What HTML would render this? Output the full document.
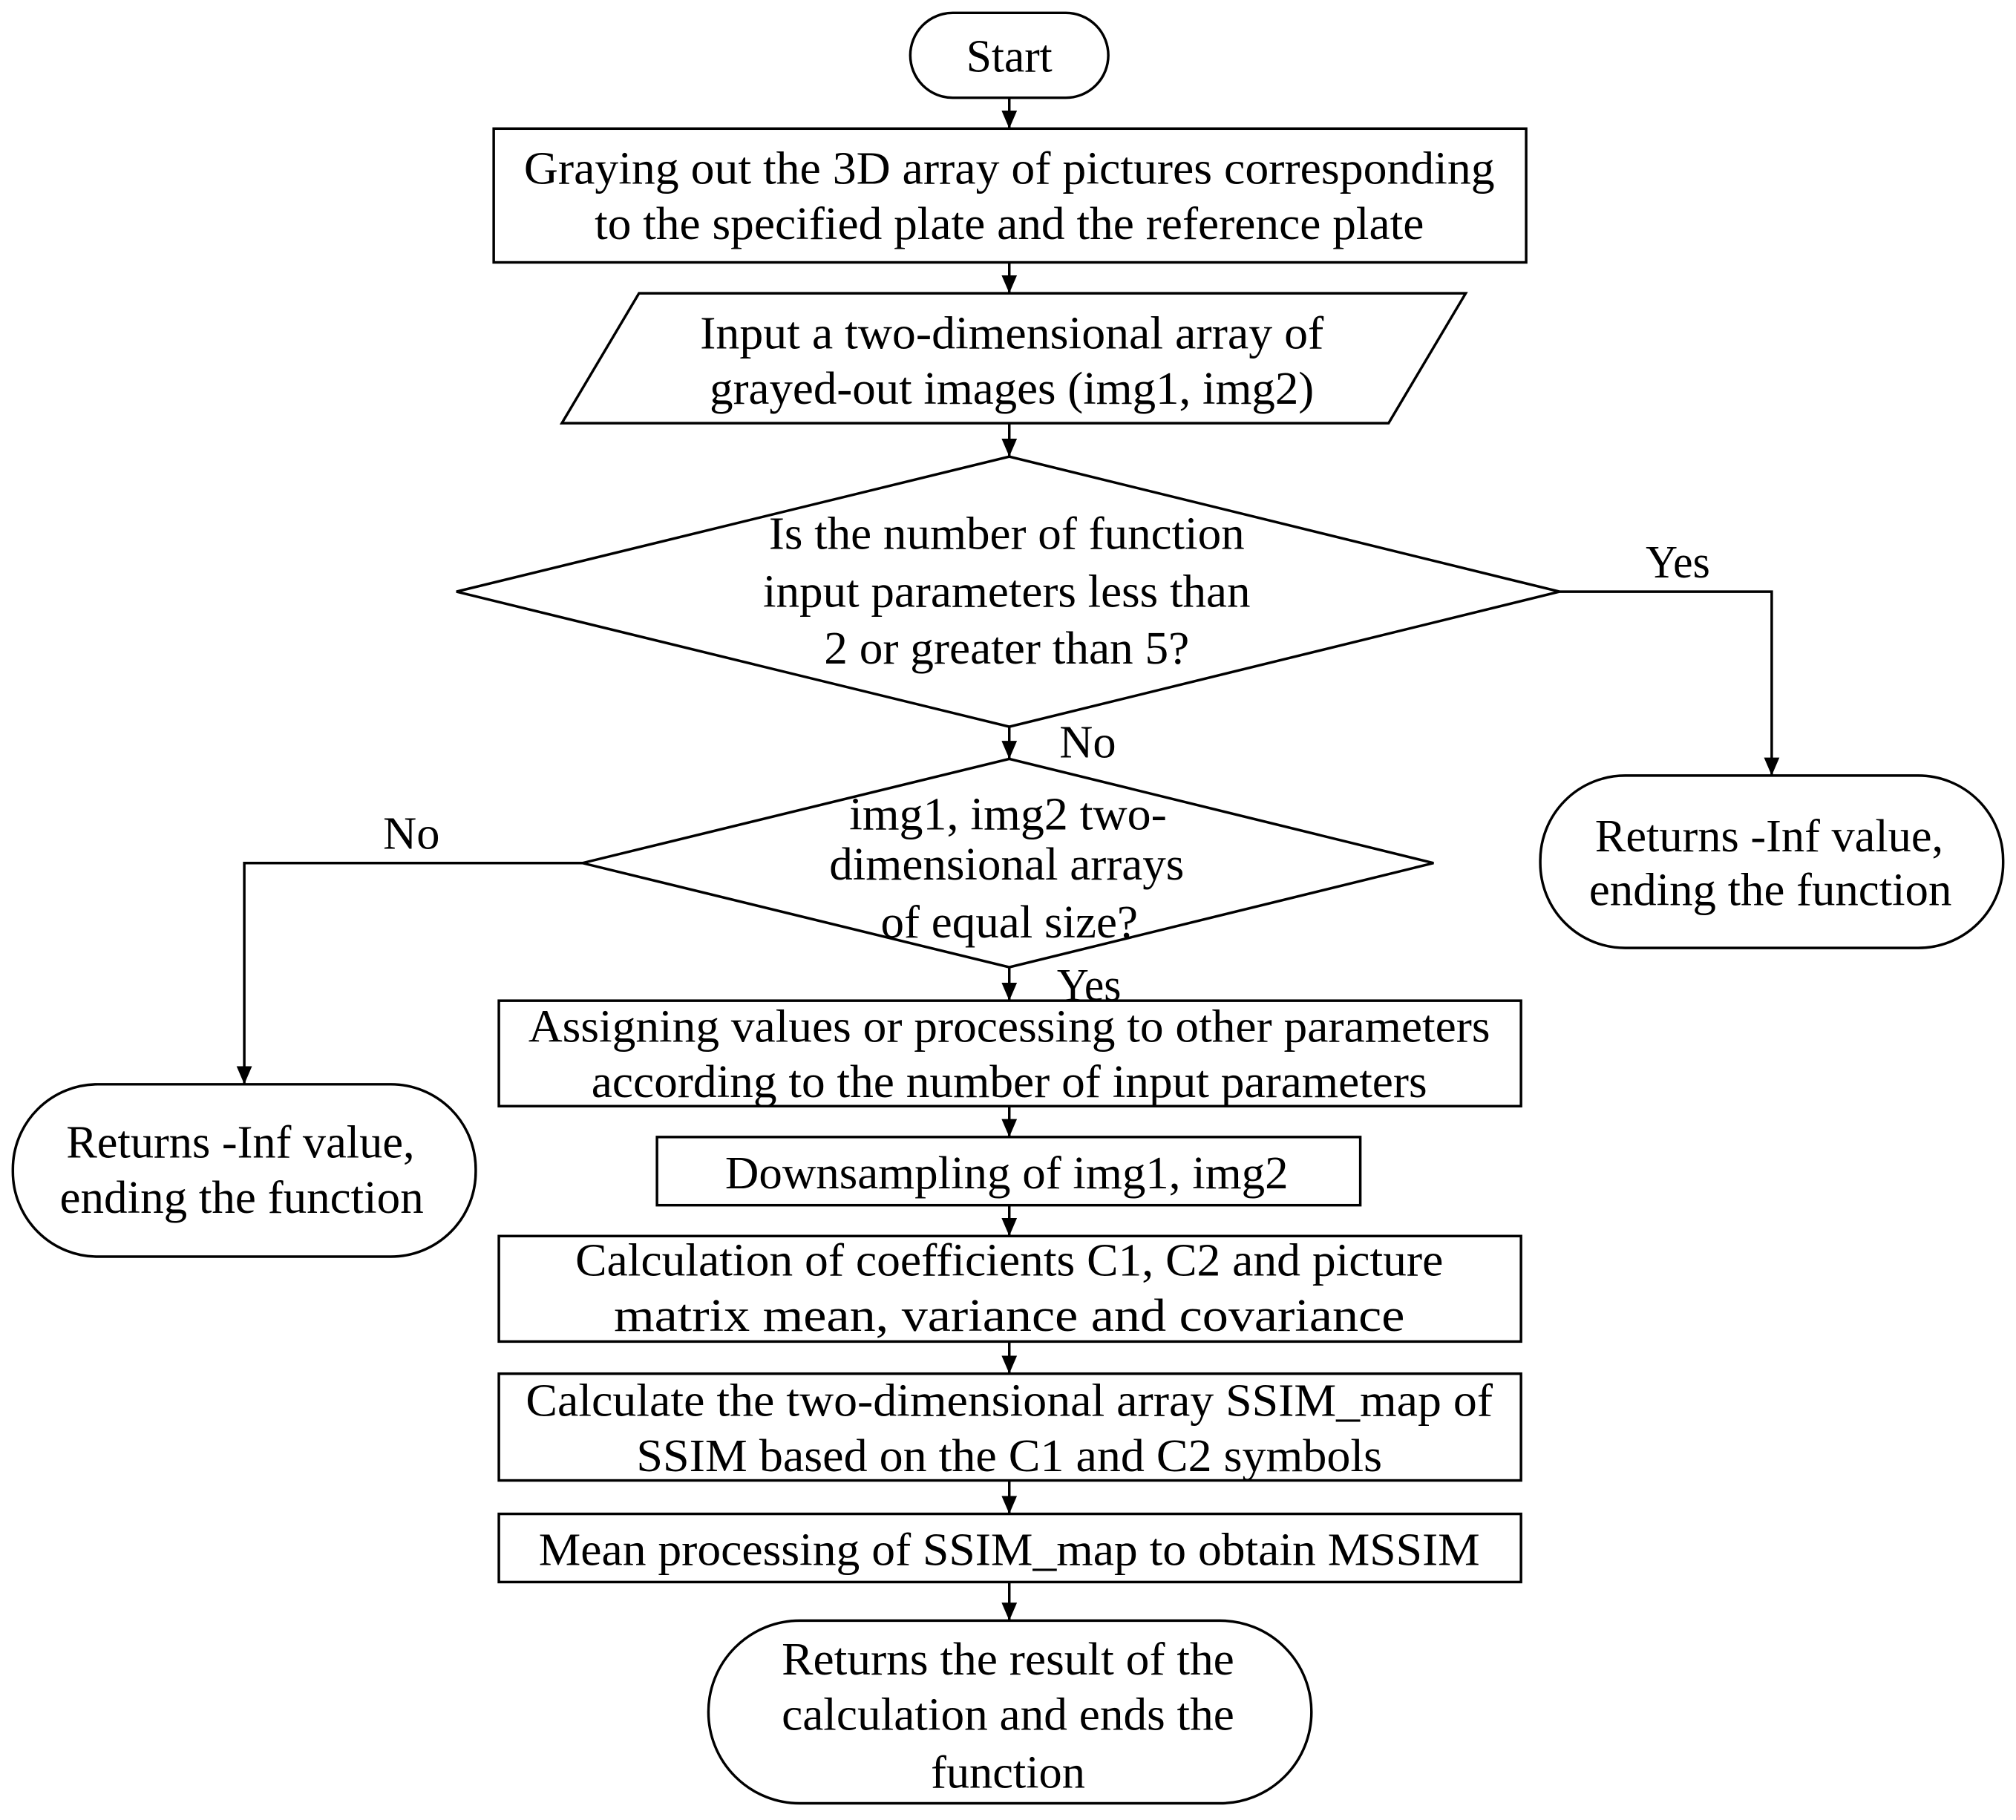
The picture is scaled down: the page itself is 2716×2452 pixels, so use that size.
<!DOCTYPE html>
<html><head><meta charset="utf-8"><style>html,body{margin:0;padding:0;background:#fff}svg{display:block}</style></head>
<body>
<svg width="2716" height="2452" viewBox="0 0 1568 1415" preserveAspectRatio="none" xmlns="http://www.w3.org/2000/svg">
<defs>
<marker id="d" markerWidth="12" markerHeight="14" refX="6" refY="14" orient="0" markerUnits="userSpaceOnUse"><path d="M0,0 L12,0 L6,14 z" fill="#000"/></marker></defs>
<g fill="none" stroke="#000" stroke-width="2">
<rect x="708" y="10" width="154" height="66" rx="33"/>
<rect x="384" y="100" width="803" height="104"/>
<polygon points="497,228 1140,228 1080,329 437,329"/>
<polygon points="785,355 1213,460 785,565 355,460"/>
<polygon points="785,590 1115,671 785,752 453,671"/>
<rect x="1198" y="603" width="360" height="134" rx="66"/>
<rect x="10" y="843" width="360" height="134" rx="66"/>
<rect x="388" y="778" width="795" height="82"/>
<rect x="511" y="884" width="547" height="53"/>
<rect x="388" y="961" width="795" height="82"/>
<rect x="388" y="1068" width="795" height="83"/>
<rect x="388" y="1177" width="795" height="53"/>
<rect x="551" y="1260" width="469" height="142" rx="71"/>
<g marker-end="url(#d)">
<line x1="785" y1="76" x2="785" y2="100"/>
<line x1="785" y1="204" x2="785" y2="228"/>
<line x1="785" y1="329" x2="785" y2="355"/>
<line x1="785" y1="565" x2="785" y2="590"/>
<line x1="785" y1="752" x2="785" y2="778"/>
<line x1="785" y1="860" x2="785" y2="884"/>
<line x1="785" y1="937" x2="785" y2="961"/>
<line x1="785" y1="1043" x2="785" y2="1068"/>
<line x1="785" y1="1151" x2="785" y2="1177"/>
<line x1="785" y1="1230" x2="785" y2="1260"/>
<polyline points="1213,460 1378,460 1378,603"/>
<polyline points="453,671 190,671 190,843"/>
</g></g>
<g font-family="Liberation Serif, serif" font-size="36" text-anchor="middle" dominant-baseline="central" fill="#000" lengthAdjust="spacingAndGlyphs">
<text x="785" y="44" textLength="67" lengthAdjust="spacingAndGlyphs">Start</text>
<text x="785" y="131" textLength="755" lengthAdjust="spacingAndGlyphs">Graying out the 3D array of pictures corresponding</text>
<text x="785" y="174" textLength="645" lengthAdjust="spacingAndGlyphs">to the specified plate and the reference plate</text>
<text x="787" y="259" textLength="485" lengthAdjust="spacingAndGlyphs">Input a two-dimensional array of</text>
<text x="787" y="302" textLength="470" lengthAdjust="spacingAndGlyphs">grayed-out images (img1, img2)</text>
<text x="783" y="415" textLength="370" lengthAdjust="spacingAndGlyphs">Is the number of function</text>
<text x="783" y="460" textLength="379" lengthAdjust="spacingAndGlyphs">input parameters less than</text>
<text x="783" y="504" textLength="284" lengthAdjust="spacingAndGlyphs">2 or greater than 5?</text>
<text x="1305" y="437" textLength="50" lengthAdjust="spacingAndGlyphs">Yes</text>
<text x="846" y="577" textLength="44" lengthAdjust="spacingAndGlyphs">No</text>
<text x="784" y="633" textLength="247" lengthAdjust="spacingAndGlyphs">img1, img2 two-</text>
<text x="783" y="672" textLength="276" lengthAdjust="spacingAndGlyphs">dimensional arrays</text>
<text x="785" y="717" textLength="200" lengthAdjust="spacingAndGlyphs">of equal size?</text>
<text x="320" y="648" textLength="44" lengthAdjust="spacingAndGlyphs">No</text>
<text x="847" y="766" textLength="50" lengthAdjust="spacingAndGlyphs">Yes</text>
<text x="1376" y="650" textLength="271" lengthAdjust="spacingAndGlyphs">Returns -Inf value,</text>
<text x="1377" y="692" textLength="282" lengthAdjust="spacingAndGlyphs">ending the function</text>
<text x="187" y="888" textLength="271" lengthAdjust="spacingAndGlyphs">Returns -Inf value,</text>
<text x="188" y="931" textLength="283" lengthAdjust="spacingAndGlyphs">ending the function</text>
<text x="785" y="798" textLength="748" lengthAdjust="spacingAndGlyphs">Assigning values or processing to other parameters</text>
<text x="785" y="841" textLength="650" lengthAdjust="spacingAndGlyphs">according to the number of input parameters</text>
<text x="783" y="912" textLength="438" lengthAdjust="spacingAndGlyphs">Downsampling of img1, img2</text>
<text x="785" y="980" textLength="675" lengthAdjust="spacingAndGlyphs">Calculation of coefficients C1, C2 and picture</text>
<text x="785" y="1023" textLength="615" lengthAdjust="spacingAndGlyphs">matrix mean, variance and covariance</text>
<text x="785" y="1089" textLength="752" lengthAdjust="spacingAndGlyphs">Calculate the two-dimensional array SSIM_map of</text>
<text x="785" y="1132" textLength="580" lengthAdjust="spacingAndGlyphs">SSIM based on the C1 and C2 symbols</text>
<text x="785" y="1205" textLength="732" lengthAdjust="spacingAndGlyphs">Mean processing of SSIM_map to obtain MSSIM</text>
<text x="784" y="1290" textLength="352" lengthAdjust="spacingAndGlyphs">Returns the result of the</text>
<text x="784" y="1333" textLength="352" lengthAdjust="spacingAndGlyphs">calculation and ends the</text>
<text x="784" y="1378" textLength="120" lengthAdjust="spacingAndGlyphs">function</text>
</g>
</svg>
</body></html>
